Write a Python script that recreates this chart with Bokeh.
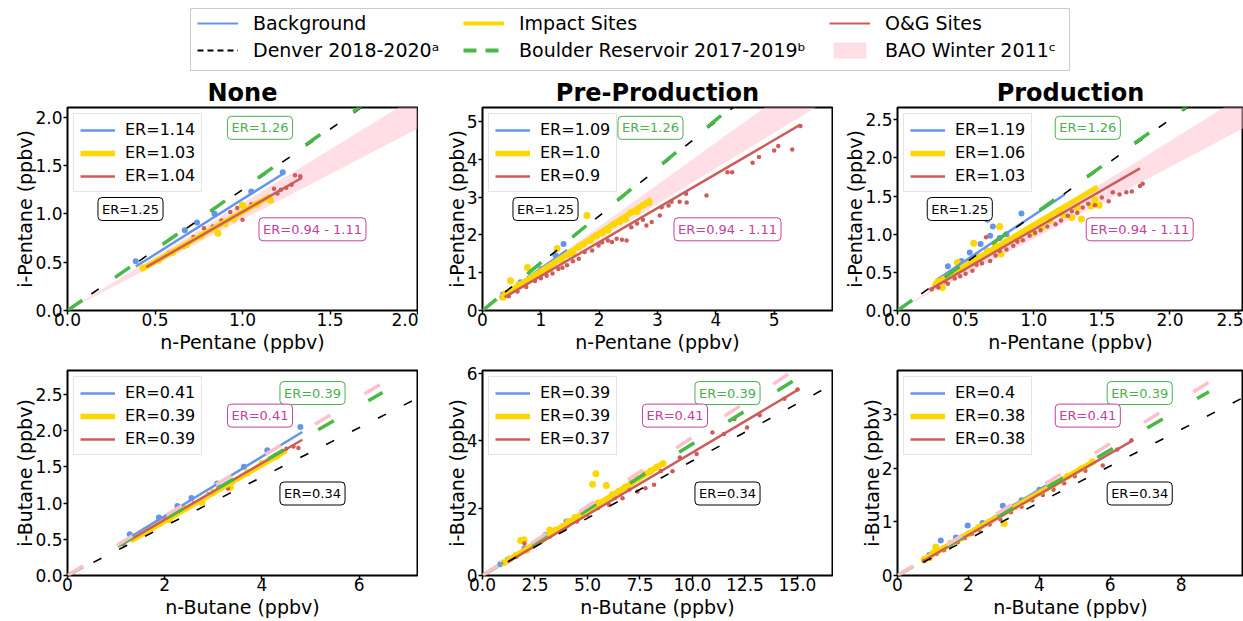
import numpy as np
from bokeh.plotting import figure
from bokeh.models import (Range1d, FixedTicker, NumeralTickFormatter, Legend,
                          LegendItem, Label)
from bokeh.layouts import column, row
from bokeh.embed import file_html
from bokeh.resources import INLINE

FONT = "DejaVu Sans"
C_BG, C_IMP, C_OG = "cornflowerblue", "gold", "indianred"
C_DEN, C_BOU, C_BAO = "black", "#46b946", "pink"
C_BOU_TXT, C_BAO_TXT = "#4caf50", "#c4409c"

# ---------------------------------------------------------------- labels
group_names = ["Background", "Impact Sites", "O&G Sites"]
ref_names = ["Denver 2018-2020ᵃ", "Boulder Reservoir 2017-2019ᵇ", "BAO Winter 2011ᶜ"]
panel_titles = ["None", "Pre-Production", "Production"]
x_titles = ["n-Pentane (ppbv)", "n-Butane (ppbv)"]
y_titles = ["i-Pentane (ppbv)", "i-Butane (ppbv)"]

# ------------------------------------------------ literature emission ratios
den_pent, bou_pent = 1.25, 1.26
bao_pent_lo, bao_pent_hi = 0.94, 1.11
den_but, bou_but, bao_but = 0.34, 0.39, 0.41

# --------------------------- fitted ratios [background, impact, O&G] per panel
er_pent = [[1.14, 1.03, 1.04], [1.09, 1.0, 0.9], [1.19, 1.06, 1.03]]
icpt_pent = [[0.01, -0.01, -0.02], [0.02, 0.04, 0.01], [0.06, 0.06, 0.03]]
fit_x0_pent = [[0.39, 0.43, 0.45], [0.30, 0.31, 0.38], [0.30, 0.27, 0.24]]
fit_x1_pent = [[1.23, 1.16, 1.34], [1.45, 2.90, 5.45], [1.23, 1.47, 1.78]]

er_but = [[0.41, 0.39, 0.39], [0.39, 0.39, 0.37], [0.4, 0.38, 0.38]]
icpt_but = [[0.0, -0.03, -0.01], [0.0, -0.03, -0.05], [0.0, 0.02, -0.005]]
fit_x0_but = [[1.20, 1.30, 1.10], [0.85, 1.00, 1.20], [0.80, 0.75, 0.75]]
fit_x1_but = [[4.83, 4.50, 4.83], [5.20, 8.60, 15.10], [4.20, 5.55, 6.63]]

# ------------------------------------------------------------ axis limits
pent_xmax = [2.0, 6.0, 2.54]
pent_ymax = [2.10, 5.37, 2.66]
but_xmax = [7.2, 16.67, 9.76]
but_ymax = [2.83, 6.08, 3.82]

pent_xticks = [[0, 0.5, 1.0, 1.5, 2.0], [0, 1, 2, 3, 4, 5], [0, 0.5, 1.0, 1.5, 2.0, 2.5]]
pent_yticks = [[0, 0.5, 1.0, 1.5, 2.0], [0, 1, 2, 3, 4, 5], [0, 0.5, 1.0, 1.5, 2.0, 2.5]]
but_xticks = [[0, 2, 4, 6], [0, 2.5, 5, 7.5, 10, 12.5, 15], [0, 2, 4, 6, 8]]
but_yticks = [[0, 0.5, 1.0, 1.5, 2.0, 2.5], [0, 2, 4, 6], [0, 1, 2, 3]]
pent_xfmt = ["0.0", "0", "0.0"]
pent_yfmt = ["0.0", "0", "0.0"]
but_xfmt = ["0", "0.0", "0"]
but_yfmt = ["0.0", "0", "0"]

# -------------------------------------------------- pentane measurements
pn_bg_x = [0.39, 0.67, 0.74, 0.84, 1.05, 1.23]
pn_bg_y = [0.51, 0.83, 0.91, 1.00, 1.23, 1.43]
pn_imp_x = [0.43, 0.52, 0.60, 0.68, 0.76, 0.86, 0.90, 0.95, 1.00, 1.08, 1.16]
pn_imp_y = [0.44, 0.52, 0.60, 0.68, 0.77, 0.80, 0.90, 0.95, 1.09, 1.10, 1.14]
pn_og_x = [0.46, 0.58, 0.66, 0.72, 0.78, 0.83, 0.88, 0.93, 0.97, 1.00,
           1.05, 1.10, 1.15, 1.18, 1.20, 1.22, 1.25, 1.28, 1.30, 1.33]
pn_og_y = [0.46, 0.60, 0.66, 0.76, 0.85, 0.87, 0.93, 1.02, 1.06, 0.94,
           1.10, 1.12, 1.18, 1.26, 1.21, 1.25, 1.27, 1.30, 1.40, 1.39]

pp_bg_x = [0.35, 0.50, 0.65, 0.80, 1.00, 1.25, 1.39]
pp_bg_y = [0.42, 0.55, 0.75, 0.85, 1.10, 1.46, 1.76]
pp_imp_x = [0.35, 0.40, 0.48, 0.55, 0.62, 0.70, 0.77, 0.85, 0.92, 1.00,
            1.08, 1.15, 1.22, 1.28, 1.35, 1.45, 1.55, 1.65, 1.72, 1.79,
            1.85, 1.95, 2.05, 2.15, 2.25, 2.35, 2.45, 2.55, 2.65, 2.75, 2.85]
pp_imp_y = [0.35, 0.45, 0.79, 0.58, 0.68, 0.72, 1.14, 0.88, 0.95, 1.05,
            1.10, 1.12, 1.25, 1.64, 1.35, 1.48, 1.52, 1.68, 1.75, 2.51,
            1.85, 1.98, 2.05, 2.12, 2.28, 2.35, 2.42, 2.60, 2.62, 2.78, 2.86]
pp_og_x = [0.45, 0.60, 0.75, 0.90, 1.00, 1.10, 1.20, 1.30, 1.37, 1.45,
           1.55, 1.65, 1.75, 1.88, 1.99, 2.05, 2.15, 2.22, 2.30, 2.39,
           2.47, 2.55, 2.65, 2.75, 2.81, 2.90, 3.04, 3.07, 3.19, 3.24,
           3.38, 3.49, 3.50, 3.84, 4.20, 4.28, 4.63, 4.74, 5.00, 5.07, 5.31, 5.45]
pp_og_y = [0.38, 0.50, 0.62, 0.78, 0.85, 0.92, 0.98, 1.10, 1.13, 1.20,
           1.30, 1.37, 1.55, 1.59, 1.72, 1.80, 1.85, 1.81, 1.90, 1.87,
           1.85, 2.20, 2.30, 2.40, 2.25, 2.34, 2.51, 2.73, 2.78, 2.88,
           2.88, 3.09, 2.86, 3.04, 3.66, 3.66, 3.91, 4.06, 4.23, 4.35, 4.26, 4.88]

pr_bg_x = [0.37, 0.47, 0.53, 0.58, 0.61, 0.66, 0.68, 0.70, 0.75, 0.80, 0.91]
pr_bg_y = [0.58, 0.65, 0.76, 0.72, 0.87, 1.19, 0.98, 1.10, 0.95, 1.00, 1.27]
pr_imp_x = [0.28, 0.30, 0.33, 0.38, 0.44, 0.48, 0.52, 0.56, 0.60, 0.66,
            0.72, 0.75, 0.76, 0.80, 0.88, 0.95, 1.00, 1.06, 1.12, 1.18,
            1.22, 1.28, 1.32, 1.35, 1.42, 1.45, 1.48]
pr_imp_y = [0.33, 0.39, 0.30, 0.45, 0.63, 0.55, 0.62, 0.88, 0.70, 0.78,
            0.85, 1.10, 0.74, 0.90, 0.95, 1.05, 1.02, 1.09, 1.18, 1.30,
            1.25, 1.22, 1.35, 1.20, 1.37, 1.45, 1.38]
pr_og_x = [0.25, 0.30, 0.35, 0.37, 0.42, 0.46, 0.50, 0.55, 0.58, 0.62,
           0.65, 0.68, 0.72, 0.75, 0.80, 0.85, 0.88, 0.92, 0.97, 1.01,
           1.05, 1.10, 1.16, 1.20, 1.25, 1.28, 1.32, 1.36, 1.40, 1.45,
           1.50, 1.55, 1.58, 1.63, 1.68, 1.72, 1.78, 1.80]
pr_og_y = [0.28, 0.30, 0.38, 0.35, 0.42, 0.45, 0.48, 0.52, 0.60, 0.62,
           0.96, 0.65, 0.72, 0.78, 0.80, 0.85, 0.90, 0.92, 0.98, 1.02,
           1.05, 1.10, 1.13, 1.18, 1.24, 1.30, 1.28, 1.35, 1.40, 1.38,
           1.48, 1.43, 1.55, 1.52, 1.55, 1.56, 1.63, 1.66]

# --------------------------------------------------- butane measurements
bn_bg_x = [1.28, 1.88, 2.26, 2.55, 3.08, 3.63, 4.11, 4.79]
bn_bg_y = [0.57, 0.80, 0.96, 1.07, 1.27, 1.50, 1.73, 2.05]
bn_imp_x = [1.35, 1.60, 1.90, 2.10, 2.40, 2.77, 3.00, 3.35, 3.70, 4.00, 4.30]
bn_imp_y = [0.52, 0.62, 0.72, 0.77, 0.93, 1.01, 1.15, 1.22, 1.42, 1.55, 1.65]
bn_og_x = [1.15, 1.40, 1.70, 2.00, 2.30, 2.60, 2.90, 3.10, 3.30, 3.60,
           3.90, 4.10, 4.30, 4.50, 4.65, 4.75]
bn_og_y = [0.43, 0.55, 0.65, 0.78, 0.88, 1.00, 1.12, 1.20, 1.20, 1.38,
           1.50, 1.58, 1.66, 1.75, 1.78, 1.76]

bp_bg_x = [0.85, 1.20, 2.00, 3.00, 4.00, 5.10]
bp_bg_y = [0.33, 0.47, 0.80, 1.20, 1.60, 2.05]
bp_imp_x = [1.00, 1.30, 1.60, 1.82, 1.98, 2.10, 2.50, 2.90, 3.20, 3.50,
            3.80, 4.10, 4.40, 4.70, 5.00, 5.24, 5.40, 5.50, 5.90, 6.20,
            6.50, 6.80, 7.10, 7.40, 7.70, 8.00, 8.30, 8.60]
bp_imp_y = [0.38, 0.50, 0.60, 1.04, 1.06, 0.75, 0.95, 1.10, 1.35, 1.35,
            1.45, 1.60, 1.72, 1.80, 1.95, 2.71, 3.02, 2.15, 2.67, 2.40,
            2.50, 2.62, 2.75, 2.88, 3.00, 3.10, 3.22, 3.32]
bp_og_x = [1.20, 1.60, 2.00, 2.40, 2.80, 3.20, 3.60, 4.00, 4.50, 5.00,
           5.50, 6.03, 6.30, 6.67, 7.00, 7.38, 7.76, 8.17, 8.50, 9.05,
           9.40, 10.20, 10.95, 11.50, 12.00, 12.60, 13.20, 14.38, 15.00]
bp_og_y = [0.42, 0.55, 0.95, 0.85, 1.00, 1.15, 1.30, 1.45, 1.60, 1.80,
           2.00, 2.09, 2.30, 2.29, 2.55, 2.49, 2.59, 2.69, 3.10, 3.09,
           3.50, 3.60, 4.24, 4.20, 4.64, 4.39, 4.75, 5.24, 5.52]

br_bg_x = [0.90, 1.22, 1.65, 1.98, 2.40, 2.97, 3.50, 4.00]
br_bg_y = [0.38, 0.65, 0.71, 0.93, 0.98, 1.30, 1.40, 1.60]
br_imp_x = [0.75, 0.90, 1.00, 1.08, 1.12, 1.30, 1.50, 1.80, 2.00, 2.30,
            2.60, 3.01, 3.30, 3.60, 4.00, 4.40, 4.80, 5.20, 5.50]
br_imp_y = [0.30, 0.33, 0.42, 0.53, 0.45, 0.50, 0.60, 0.70, 0.78, 0.90,
            1.00, 0.97, 1.28, 1.40, 1.55, 1.70, 1.85, 2.00, 2.12]
br_og_x = [0.75, 0.90, 1.10, 1.30, 1.50, 1.70, 1.90, 2.10, 2.30, 2.60,
           2.90, 3.20, 3.50, 3.80, 4.10, 4.40, 4.70, 5.00, 5.30, 5.79, 6.20, 6.60]
br_og_y = [0.27, 0.32, 0.40, 0.47, 0.55, 0.62, 0.70, 0.78, 0.85, 0.95,
           1.05, 1.18, 1.28, 1.40, 1.50, 1.60, 1.72, 1.85, 1.95, 2.05, 2.35, 2.52]

pent_data = [
    [(pn_bg_x, pn_bg_y), (pn_imp_x, pn_imp_y), (pn_og_x, pn_og_y)],
    [(pp_bg_x, pp_bg_y), (pp_imp_x, pp_imp_y), (pp_og_x, pp_og_y)],
    [(pr_bg_x, pr_bg_y), (pr_imp_x, pr_imp_y), (pr_og_x, pr_og_y)],
]
but_data = [
    [(bn_bg_x, bn_bg_y), (bn_imp_x, bn_imp_y), (bn_og_x, bn_og_y)],
    [(bp_bg_x, bp_bg_y), (bp_imp_x, bp_imp_y), (bp_og_x, bp_og_y)],
    [(br_bg_x, br_bg_y), (br_imp_x, br_imp_y), (br_og_x, br_og_y)],
]

# ------------------------------------------------------------ styling
group_colors = [C_BG, C_IMP, C_OG]
group_dot = [6, 7, 4.5]
group_lw = [2.5, 5.5, 2.5]
DEN_DASH, BOU_DASH = "9 20", "18 40"

widths = [418, 415, 410]
lefts = [67, 64, 64]
rights = [1, 1, 0]


def style_axes(p, xticks, yticks, xfmt, yfmt, xlabel, ylabel):
    p.xaxis.ticker = FixedTicker(ticks=xticks)
    p.yaxis.ticker = FixedTicker(ticks=yticks)
    p.xaxis.formatter = NumeralTickFormatter(format=xfmt)
    p.yaxis.formatter = NumeralTickFormatter(format=yfmt)
    p.xaxis.axis_label = xlabel
    p.yaxis.axis_label = ylabel
    for ax in p.axis:
        ax.axis_line_color = None
        ax.major_tick_line_color = "black"
        ax.major_tick_line_width = 1.5
        ax.major_tick_out = 4
        ax.major_tick_in = 0
        ax.minor_tick_line_color = None
        ax.major_label_text_font = FONT
        ax.major_label_text_font_size = "17px"
        ax.major_label_text_color = "black"
        ax.axis_label_text_font = FONT
        ax.axis_label_text_font_size = "19px"
        ax.axis_label_text_font_style = "normal"
        ax.axis_label_text_color = "black"
    p.xaxis.major_label_standoff = -2
    p.xaxis.axis_label_standoff = 2
    p.yaxis.major_label_standoff = 1
    p.yaxis.axis_label_standoff = -4
    p.xgrid.visible = False
    p.ygrid.visible = False
    p.outline_line_color = "black"
    p.outline_line_width = 2
    p.outline_line_alpha = 1


def box_label(p, x, y, text, color, border):
    p.add_layout(Label(x=x, y=y, text=text, text_align="center",
                       text_baseline="middle", text_font=FONT,
                       text_font_size="13px", text_color=color,
                       border_line_color=border, border_line_width=1,
                       background_fill_color="white", background_fill_alpha=0.9,
                       padding=4, border_radius=4))


def add_groups(p, data, er, icpt, x0, x1):
    fits = []
    for k in range(3):
        xs, ys = data[k]
        p.scatter(xs, ys, size=group_dot[k], color=group_colors[k],
                  line_color=None)
    for k in range(3):
        fx = np.array([x0[k], x1[k]])
        r = p.line(fx, er[k] * fx + icpt[k], line_color=group_colors[k],
                   line_width=group_lw[k])
        fits.append(r)
    leg = Legend(items=[LegendItem(label=f"ER={er[k]}", renderers=[fits[k]])
                        for k in range(3)],
                 location="top_left", label_text_font=FONT,
                 label_text_font_size="16px", label_text_color="black",
                 glyph_width=35, glyph_height=18,
                 label_height=18, label_standoff=10, spacing=4, padding=6,
                 margin=6, border_line_color="#cccccc", border_line_width=1,
                 background_fill_color="white", background_fill_alpha=0.85)
    p.add_layout(leg)


def pentane_panel(i):
    xmax, ymax = pent_xmax[i], pent_ymax[i]
    p = figure(width=widths[i], height=283, x_range=Range1d(0, xmax),
               y_range=Range1d(0, ymax), toolbar_location=None,
               output_backend="svg", min_border_left=lefts[i],
               min_border_right=rights[i], min_border_top=32,
               min_border_bottom=48, title=panel_titles[i])
    p.title.align = "center"
    p.title.text_font = FONT
    p.title.text_font_size = "24px"
    p.title.text_font_style = "bold"
    p.title.text_color = "black"
    p.title.standoff = 2
    p.title.offset = 0
    style_axes(p, pent_xticks[i], pent_yticks[i], pent_xfmt[i], pent_yfmt[i],
               x_titles[0], y_titles[0])
    bx = np.array([0.0, xmax])
    p.varea(x=bx, y1=bao_pent_lo * bx, y2=bao_pent_hi * bx,
            fill_color=C_BAO, fill_alpha=0.5)
    add_groups(p, pent_data[i], er_pent[i], icpt_pent[i],
               fit_x0_pent[i], fit_x1_pent[i])
    dx = np.array([0.0, xmax])
    p.line(dx, den_pent * dx, line_color=C_DEN, line_width=1.6,
           line_dash=DEN_DASH)
    gx = np.array([0.0, 0.9 * xmax])
    p.line(gx, bou_pent * gx, line_color=C_BOU, line_width=3.5,
           line_dash=BOU_DASH)
    gfx = 0.48 if i == 1 else 0.55
    box_label(p, gfx * xmax, 0.90 * ymax, f"ER={bou_pent}", C_BOU_TXT, C_BOU_TXT)
    box_label(p, 0.18 * xmax, 0.50 * ymax, f"ER={den_pent}", "black", "black")
    box_label(p, 0.70 * xmax, 0.40 * ymax, f"ER={bao_pent_lo} - {bao_pent_hi}",
              C_BAO_TXT, C_BAO_TXT)
    return p


def butane_panel(i):
    xmax, ymax = but_xmax[i], but_ymax[i]
    p = figure(width=widths[i], height=263, x_range=Range1d(0, xmax),
               y_range=Range1d(0, ymax), toolbar_location=None,
               output_backend="svg", min_border_left=lefts[i],
               min_border_right=rights[i], min_border_top=12,
               min_border_bottom=46)
    style_axes(p, but_xticks[i], but_yticks[i], but_xfmt[i], but_yfmt[i],
               x_titles[1], y_titles[1])
    add_groups(p, but_data[i], er_but[i], icpt_but[i],
               fit_x0_but[i], fit_x1_but[i])
    dx = np.array([0.0, xmax])
    p.line(dx, den_but * dx, line_color=C_DEN, line_width=1.6,
           line_dash=DEN_DASH)
    gx = np.array([0.0, 0.9 * xmax])
    p.line(gx, bou_but * gx, line_color=C_BOU, line_width=3.5,
           line_dash=BOU_DASH)
    p.line(gx, bao_but * gx, line_color=C_BAO, line_width=3.5,
           line_dash=BOU_DASH)
    box_label(p, 0.70 * xmax, 0.89 * ymax, f"ER={bou_but}", C_BOU_TXT, C_BOU_TXT)
    box_label(p, 0.55 * xmax, 0.78 * ymax, f"ER={bao_but}", C_BAO_TXT, C_BAO_TXT)
    box_label(p, 0.70 * xmax, 0.40 * ymax, f"ER={den_but}", "black", "black")
    return p


# ------------------------------------------------------- shared legend
lf = figure(width=1243, height=75, x_range=Range1d(0, 1), y_range=Range1d(0, 1),
            toolbar_location=None, output_backend="svg",
            x_axis_location=None, y_axis_location=None,
            min_border_left=190, min_border_right=174,
            min_border_top=8, min_border_bottom=5)
lf.outline_line_color = "#cccccc"
lf.outline_line_width = 1
lf.grid.visible = False

# legend-only handles (no visible data)
nan1 = np.array([np.nan])
h_bg = lf.line(nan1, nan1, line_color=C_BG, line_width=1.8)
h_imp = lf.line(nan1, nan1, line_color=C_IMP, line_width=4)
h_og = lf.line(nan1, nan1, line_color=C_OG, line_width=1.8)
h_den = lf.line(nan1, nan1, line_color=C_DEN, line_width=2, line_dash="6 4")
h_bou = lf.line(nan1, nan1, line_color=C_BOU, line_width=4, line_dash="13 9")
h_bao = lf.quad(left=nan1, right=nan1, top=nan1, bottom=nan1,
                fill_color=C_BAO, fill_alpha=0.5, line_color=None)

columns = [[(group_names[0], h_bg), (ref_names[0], h_den)],
           [(group_names[1], h_imp), (ref_names[1], h_bou)],
           [(group_names[2], h_og), (ref_names[2], h_bao)]]
col_x = [7, 273, 639]
for cx, entries in zip(col_x, columns):
    lg = Legend(items=[LegendItem(label=t, renderers=[r]) for t, r in entries],
                location=(cx, 9), orientation="vertical", label_text_font=FONT,
                label_text_font_size="19px", label_text_color="black",
                glyph_width=41, glyph_height=20,
                label_height=20, label_standoff=15, spacing=5, padding=5,
                margin=0, border_line_color=None, background_fill_alpha=0)
    lf.add_layout(lg)

top = row([pentane_panel(i) for i in range(3)])
bottom = row([butane_panel(i) for i in range(3)])
page = column(lf, top, bottom)

open("out.html", "w").write(file_html(page, INLINE))
